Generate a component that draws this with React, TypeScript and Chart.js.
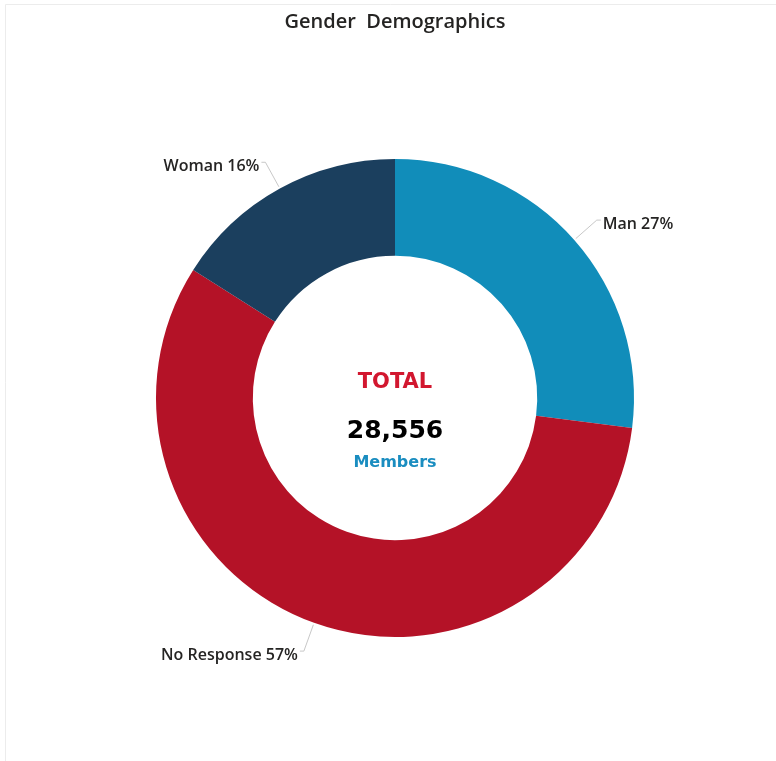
import React, { useEffect, useRef } from "react";
import { Chart, registerables } from "chart.js";

Chart.register(...registerables);

const categories = ["Man", "No Response", "Woman"];
const percents = [27, 57, 16];
const counts = [7710, 16277, 4569];
const totalLabel = "28,556";
const colors = ["#118DBA", "#B41227", "#1B3F5E"];

const FONT = "'Open Sans', 'Noto Sans', sans-serif";
const HEAVY = "'DejaVu Sans', 'Liberation Sans', sans-serif";

const overlayPlugin = {
  id: "overlay",
  beforeDraw(chart: any) {
    const ctx = chart.ctx;
    ctx.save();
    ctx.fillStyle = "#ffffff";
    ctx.fillRect(0, 0, chart.width, chart.height);
    ctx.strokeStyle = "#ececec";
    ctx.lineWidth = 1;
    ctx.beginPath();
    ctx.moveTo(5.5, chart.height);
    ctx.lineTo(5.5, 4.5);
    ctx.lineTo(chart.width, 4.5);
    ctx.stroke();
    ctx.restore();
  },
  afterDraw(chart: any) {
    const ctx = chart.ctx;
    const meta = chart.getDatasetMeta(0);
    ctx.save();
    // title
    ctx.fillStyle = "#252423";
    ctx.font = `600 20px ${FONT}`;
    ctx.textAlign = "center";
    ctx.textBaseline = "middle";
    ctx.fillText("Gender  Demographics", 395, 22);

    meta.data.forEach((arc: any, i: number) => {
      const p = arc.getProps(["x", "y", "startAngle", "endAngle", "outerRadius"], true);
      const mid = (p.startAngle + p.endAngle) / 2;
      const dx = Math.cos(mid);
      const dy = Math.sin(mid);
      const x0 = p.x + dx * (p.outerRadius + 2);
      const y0 = p.y + dy * (p.outerRadius + 2);
      const x1 = p.x + dx * (p.outerRadius + 30);
      const y1 = p.y + dy * (p.outerRadius + 30);
      const right = dx >= 0;
      ctx.strokeStyle = "#c8c8c8";
      ctx.lineWidth = 1;
      ctx.beginPath();
      ctx.moveTo(x0, y0);
      ctx.lineTo(x1, y1);
      ctx.lineTo(x1 + (right ? 4 : -4), y1);
      ctx.stroke();
      ctx.fillStyle = "#252423";
      ctx.font = `600 16px ${FONT}`;
      ctx.textAlign = right ? "left" : "right";
      ctx.textBaseline = "middle";
      ctx.fillText(`${categories[i]} ${percents[i]}%`, x1 + (right ? 6 : -6), y1 + 4);
    });

    const cx = meta.data[0].x;
    const cy = meta.data[0].y;
    ctx.textAlign = "center";
    ctx.textBaseline = "middle";
    ctx.fillStyle = "#D2172F";
    ctx.font = `bold 21px ${HEAVY}`;
    ctx.fillText("TOTAL", cx, cy - 15);
    ctx.fillStyle = "#000000";
    ctx.font = `bold 25px ${HEAVY}`;
    ctx.fillText(totalLabel, cx, cy + 33);
    ctx.fillStyle = "#1A8DC0";
    ctx.font = `bold 16px ${HEAVY}`;
    ctx.fillText("Members", cx, cy + 65);
    ctx.restore();
  },
};

export default function App() {
  const ref = useRef<HTMLCanvasElement>(null);
  useEffect(() => {
    document.body.style.margin = "0";
    const chart = new Chart(ref.current!, {
      type: "doughnut",
      data: {
        labels: categories,
        datasets: [
          {
            data: counts,
            backgroundColor: colors,
            borderWidth: 0,
          },
        ],
      },
      options: {
        animation: false,
        responsive: false,
        cutout: "59.5%",
        layout: { padding: { left: 156, right: 142, top: 159, bottom: 124 } },
        plugins: {
          legend: { display: false },
          tooltip: { enabled: false },
          title: { display: false },
        },
      },
      plugins: [overlayPlugin],
    });
    return () => chart.destroy();
  }, []);
  return (
    <div style={{ width: 776, height: 761 }}>
      <canvas ref={ref} width={776} height={761} style={{ display: "block" }} />
    </div>
  );
}
